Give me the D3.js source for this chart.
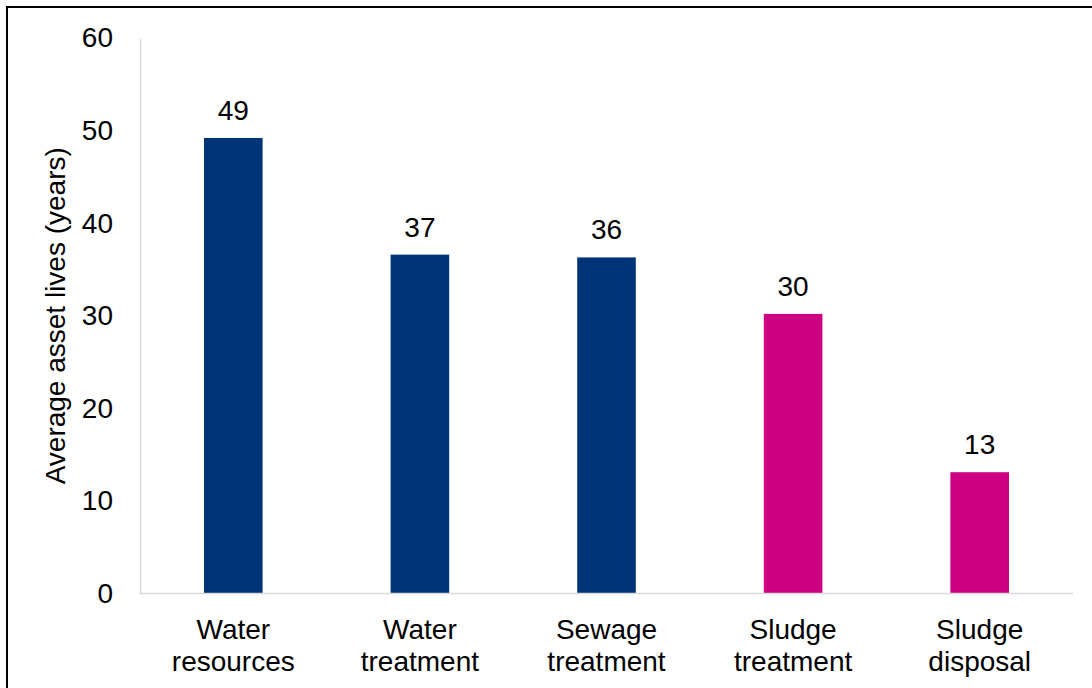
<!DOCTYPE html>
<html>
<head>
<meta charset="utf-8">
<script src="https://cdn.jsdelivr.net/npm/d3@7"></script>
<style>
  body { margin: 0; background: #fff; }
  svg text { font-family: "Liberation Sans", Arial, sans-serif; fill: #000; }
</style>
</head>
<body>
<svg id="chart" width="1092" height="688"></svg>
<script>
// Chart data
const categories = [["Water", "resources"], ["Water", "treatment"], ["Sewage", "treatment"], ["Sludge", "treatment"], ["Sludge", "disposal"]];
const assetLives = [49.2, 36.6, 36.3, 30.2, 13.1];
const barColors = ["#003478", "#003478", "#003478", "#cc0080", "#cc0080"];
const yTicks = [0, 10, 20, 30, 40, 50, 60];

const svg = d3.select("#chart");
const fontSize = 28;

// Plot area
const plot = { left: 140, right: 1073, top: 38, bottom: 593.5 };

// Outer frame (cropped on right and bottom in the original)
svg.append("rect")
    .attr("x", 7)
    .attr("y", 7)
    .attr("width", 1200)
    .attr("height", 800)
    .attr("fill", "none")
    .attr("stroke", "#000")
    .attr("stroke-width", 2);

const x = d3.scaleBand()
    .domain(d3.range(categories.length))
    .range([plot.left, plot.right])
    .paddingInner(0.686)
    .paddingOuter(0.343);

const y = d3.scaleLinear()
    .domain([0, 60])
    .range([plot.bottom, plot.top]);

// Y axis
const yAxis = svg.append("g")
    .attr("transform", `translate(${plot.left},0)`)
    .call(d3.axisLeft(y).tickValues(yTicks).tickSize(0).tickPadding(27));
yAxis.select(".domain").attr("stroke", "#d9d9d9").attr("stroke-width", 1.5);
yAxis.selectAll("text")
    .attr("font-size", fontSize)
    .attr("font-family", "Liberation Sans, Arial, sans-serif")
    .attr("fill", "#000");

// Bars
svg.append("g")
    .selectAll("rect")
    .data(assetLives)
    .join("rect")
    .attr("x", (d, i) => x(i))
    .attr("y", d => y(d))
    .attr("width", x.bandwidth())
    .attr("height", d => y(0) - y(d))
    .attr("fill", (d, i) => barColors[i]);

// X axis line (drawn after bars)
svg.append("line")
    .attr("x1", plot.left)
    .attr("x2", plot.right)
    .attr("y1", y(0))
    .attr("y2", y(0))
    .attr("stroke", "#d9d9d9")
    .attr("stroke-width", 1.5);

// Value labels
svg.append("g")
    .selectAll("text")
    .data(assetLives)
    .join("text")
    .attr("x", (d, i) => x(i) + x.bandwidth() / 2)
    .attr("y", d => y(d) - 18)
    .attr("text-anchor", "middle")
    .attr("font-size", fontSize)
    .text(d => Math.round(d));

// Category labels (two lines)
const catLabels = svg.append("g")
    .selectAll("text")
    .data(categories)
    .join("text")
    .attr("text-anchor", "middle")
    .attr("font-size", fontSize)
    .attr("transform", (d, i) => `translate(${x(i) + x.bandwidth() / 2},${y(0) + 45.5})`);
catLabels.selectAll("tspan")
    .data(d => d)
    .join("tspan")
    .attr("x", 0)
    .attr("y", (d, i) => i * 31.5)
    .text(d => d);

// Y axis title
svg.append("text")
    .attr("transform", `translate(65,${(plot.top + plot.bottom) / 2}) rotate(-90)`)
    .attr("text-anchor", "middle")
    .attr("font-size", fontSize)
    .text("Average asset lives (years)");
</script>
</body>
</html>
